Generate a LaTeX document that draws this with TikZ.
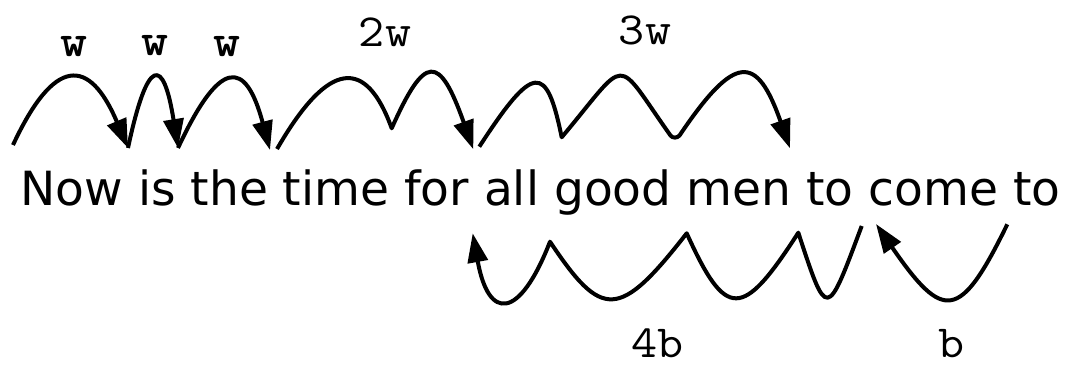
\documentclass[tikz,border=0pt]{standalone}
\usepackage{fontspec}
\newfontfamily\sentfont{DejaVu Sans}
\usetikzlibrary{arrows.meta}
\begin{document}
\begin{tikzpicture}[x=1pt,y=1pt,
  hop/.style={line width=4pt, line join=round, -{Triangle[length=29pt,width=20pt]}},
  lbl/.style={font=\fontsize{46}{50}\selectfont\ttfamily, inner sep=0pt, anchor=base},
  lblw/.style={font=\fontsize{46}{50}\selectfont\ttfamily\bfseries, inner sep=0pt, anchor=base},
]
\useasboundingbox (0,0) rectangle (1065,364);
\node[anchor=base west, inner sep=0pt, font=\fontsize{47.1}{50}\selectfont\sentfont] (txt) at (20.4,158) {Now is the time for all good men to come to};
% labels
\node[lblw] (lw1) at (74,307.3) {\scalebox{1.12}[1]{w}};
\node[lblw] (lw2) at (154.7,308) {\scalebox{1.12}[1]{w}};
\node[lblw] (lw3) at (227,307.3) {\scalebox{1.12}[1]{w}};
\node[lbl] (l2w) at (385,317.3) {\scalebox{1.1}[1]{2w}};
\node[lbl] (l3w) at (645,319.7) {\scalebox{1.1}[1]{3w}};
\node[lbl] (l4b) at (657.5,6.5) {\scalebox{1.1}[1]{4b}};
\node[lbl] (lb) at (951.7,6.5) {\scalebox{1.1}[1]{b}};
% top coordinates
\coordinate (a0) at (13,219);
\coordinate (a1) at (128,216);
\coordinate (a2) at (178,216);
\coordinate (a3) at (270,214);
\coordinate (b0) at (277,215);
\coordinate (c1) at (391.7,235.7);
\coordinate (b1) at (473.3,214.7);
\coordinate (d0) at (479.3,217.3);
\coordinate (e1) at (561.7,226.7);
\coordinate (e2a) at (670.5,228.5);
\coordinate (e2b) at (679.5,228.5);
\coordinate (d1) at (790,215.7);
% bottom coordinates
\coordinate (s6) at (861.7,138);
\coordinate (k1) at (798.3,131.3);
\coordinate (k2) at (686.7,130.7);
\coordinate (k3) at (550,122.3);
\coordinate (t6) at (472.7,130.7);
\coordinate (s7) at (1007.3,139.7);
\coordinate (t7) at (876,140);
% top arcs
\draw[hop] (a0) .. controls +(65:97.6) and +(113:99.4) .. (a1);
\draw[hop] (a1) .. controls +(78:94) and +(99:93.1) .. (a2);
\draw[hop] (a2) .. controls +(65:99) and +(105:94.9) .. (a3);
\draw[hop] (b0) .. controls +(60:104.8) and +(110:74.6) .. (c1)
  .. controls +(66:81.7) and +(109.6:101.5) .. (b1);
\draw[hop] (d0) .. controls +(57:99.9) and +(101.6:75.9) .. (e1)
  .. controls +(50:106.3) and +(125.4:99) .. (e2a)
  to[out=-54.6,in=-130] (e2b)
  .. controls +(56:100) and +(109.4:99.9) .. (d1);
% bottom arcs
\draw[hop] (s6) .. controls +(-110.5:100.9) and +(-71.8:92.4) .. (k1)
  .. controls +(-122.8:104) and +(-65.6:95.3) .. (k2)
  .. controls +(-128:109.9) and +(-56.3:94) .. (k3)
  .. controls +(-111.3:84.9) and +(-79.8:88.9) .. (t6);
\draw[hop] (s7) .. controls +(-116:108.4) and +(-55.4:118.7) .. (t7);
\end{tikzpicture}
\end{document}
